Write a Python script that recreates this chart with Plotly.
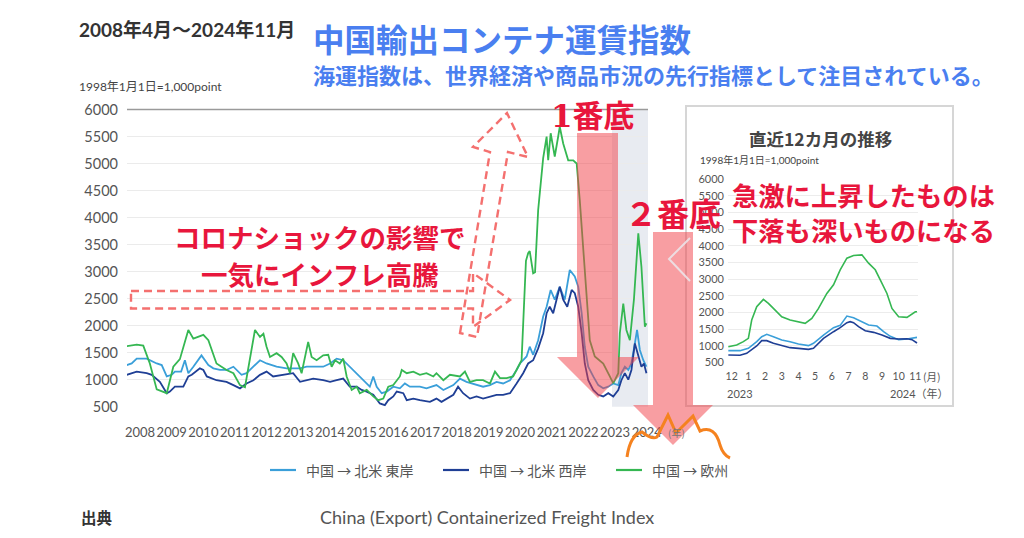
import plotly.graph_objects as go

# The page body has an 8px margin, so the figure is 1008x522 and every
# layout position below is given in reference-picture pixels, shifted by OFF.
OFF = 8
FW, FH = 1024 - 2 * OFF, 538 - 2 * OFF


def px(x):
    return (x - OFF) / FW


def py(y):
    return 1 - (y - OFF) / FH


# ---------------- main chart data (decimal year, index points) ----------------
east_t = [2008.24, 2008.40, 2008.56, 2008.88, 2009.20, 2009.36, 2009.52, 2009.68, 2009.78, 2009.98,
          2010.10, 2010.21, 2010.37, 2010.63, 2010.85, 2011.01, 2011.22, 2011.43, 2011.65, 2011.91,
          2012.07, 2012.29, 2012.50, 2012.71, 2013.03, 2013.35, 2013.56, 2013.78, 2013.99, 2014.20,
          2014.52, 2014.74, 2014.95, 2015.16, 2015.37, 2015.59, 2015.80, 2016.01, 2016.12, 2016.23,
          2016.39, 2016.55, 2016.76, 2016.97, 2017.13, 2017.29, 2017.61, 2017.82, 2018.14, 2018.36,
          2018.68, 2018.89, 2019.10, 2019.42, 2019.63, 2019.85, 2020.06, 2020.27, 2020.49, 2020.70,
          2020.81, 2021.02, 2021.12, 2021.23, 2021.39, 2021.55, 2021.66, 2021.79, 2021.92, 2022.08,
          2022.24, 2022.40, 2022.56, 2022.67, 2022.78, 2022.88, 2022.99, 2023.15, 2023.31, 2023.47,
          2023.63, 2023.79, 2023.95, 2024.05, 2024.16, 2024.27, 2024.37, 2024.48, 2024.55, 2024.64,
          2024.75, 2024.85]
east_v = [1270, 1300, 1390, 1390, 1300, 1270, 1060, 1090, 1150, 1150,
          1360, 1120, 1240, 1450, 1270, 1210, 1180, 1180, 1240, 1090,
          1120, 1240, 1360, 1300, 1240, 1210, 1210, 1210, 1240, 1240,
          1240, 1300, 1390, 1360, 1240, 1120, 990, 870, 1060, 870,
          750, 780, 870, 840, 930, 870, 870, 840, 900, 810,
          900, 1020, 960, 900, 870, 900, 960, 930, 990, 1180,
          1300, 1430, 1610, 1460, 1730, 2170, 2350, 2660, 2480, 2720,
          2480, 3030, 2910, 2720, 2230, 1610, 1240, 1060, 900, 840,
          870, 930, 900, 1120, 1240, 1180, 1300, 1670, 1920, 1550,
          1360, 1240]

west_t = [2008.24, 2008.56, 2008.88, 2009.04, 2009.30, 2009.52, 2009.62, 2009.78, 2010.05, 2010.21,
          2010.32, 2010.58, 2010.69, 2010.80, 2011.11, 2011.43, 2011.65, 2011.86, 2012.07, 2012.29,
          2012.50, 2012.71, 2012.92, 2013.24, 2013.56, 2013.78, 2013.99, 2014.20, 2014.52, 2014.74,
          2014.95, 2015.16, 2015.37, 2015.59, 2015.75, 2015.91, 2016.12, 2016.33, 2016.49, 2016.60,
          2016.76, 2016.87, 2017.08, 2017.19, 2017.40, 2017.61, 2017.93, 2018.14, 2018.30, 2018.46,
          2018.68, 2018.83, 2018.99, 2019.21, 2019.42, 2019.63, 2019.85, 2020.06, 2020.27, 2020.49,
          2020.70, 2020.91, 2021.07, 2021.23, 2021.39, 2021.55, 2021.66, 2021.76, 2021.87, 2022.08,
          2022.19, 2022.32, 2022.46, 2022.56, 2022.67, 2022.78, 2022.88, 2022.99, 2023.15, 2023.31,
          2023.47, 2023.63, 2023.79, 2023.95, 2024.05, 2024.16, 2024.27, 2024.37, 2024.48, 2024.59,
          2024.69, 2024.77, 2024.85]
west_v = [1090, 1150, 1120, 1090, 960, 750, 780, 870, 870, 1060,
          1090, 1210, 1180, 1060, 990, 960, 900, 840, 930, 990,
          1090, 1150, 1060, 1090, 1120, 960, 990, 1020, 990, 960,
          990, 1020, 870, 870, 810, 780, 720, 560, 530, 620,
          690, 780, 750, 620, 650, 620, 590, 650, 590, 650,
          720, 870, 750, 650, 690, 650, 690, 720, 720, 750,
          930, 1120, 1300, 1360, 1580, 1860, 2230, 2350, 2230, 2720,
          2480, 2350, 2660, 2600, 2350, 1860, 1300, 990, 810, 720,
          690, 750, 690, 810, 990, 1120, 1000, 1180, 1670, 1430,
          1240, 1300, 1120]

eu_t = [2008.24, 2008.56, 2008.77, 2008.98, 2009.20, 2009.36, 2009.52, 2009.73, 2009.94, 2010.21,
        2010.37, 2010.69, 2010.85, 2011.11, 2011.43, 2011.65, 2011.86, 2012.02, 2012.18, 2012.34,
        2012.50, 2012.61, 2012.71, 2012.82, 2013.03, 2013.19, 2013.35, 2013.46, 2013.56, 2013.72,
        2013.83, 2014.04, 2014.15, 2014.31, 2014.52, 2014.68, 2014.79, 2014.90, 2015.05, 2015.16,
        2015.27, 2015.43, 2015.59, 2015.69, 2015.91, 2016.12, 2016.28, 2016.44, 2016.60, 2016.76,
        2016.97, 2017.03, 2017.19, 2017.40, 2017.61, 2017.82, 2018.04, 2018.14, 2018.36, 2018.57,
        2018.89, 2019.05, 2019.21, 2019.42, 2019.63, 2019.85, 2020.01, 2020.17, 2020.38, 2020.59,
        2020.86, 2021.00, 2021.07, 2021.12, 2021.23, 2021.29, 2021.39, 2021.55, 2021.66, 2021.71,
        2021.79, 2021.92, 2022.03, 2022.08, 2022.19, 2022.35, 2022.51, 2022.62, 2022.72, 2022.83,
        2022.94, 2023.04, 2023.20, 2023.47, 2023.68, 2023.79, 2023.95, 2024.00, 2024.11, 2024.21,
        2024.32, 2024.45, 2024.59, 2024.69, 2024.80, 2024.85]
eu_v = [1620, 1650, 1630, 1300, 820, 790, 750, 1240, 1380, 1920,
        1760, 1830, 1730, 1300, 1180, 1120, 900, 860, 1360, 1920,
        1790, 1850, 1610, 1420, 1490, 1420, 1300, 1120, 1490, 1300,
        1120, 1700, 1420, 1360, 1450, 1460, 1240, 1360, 1300, 1390,
        1060, 810, 870, 750, 810, 690, 620, 650, 870, 900,
        1060, 1180, 1120, 1150, 1090, 1120, 1060, 1120, 990, 1090,
        1060, 1150, 960, 990, 990, 930, 1150, 1030, 1030, 1060,
        1360, 3200, 3340, 3380, 2970, 2990, 4140, 5100, 5500, 5060,
        5560, 5130, 5500, 5680, 5370, 5060, 5060, 5000, 4320, 3400,
        2480, 1730, 1430, 1300, 1060, 930, 1120, 1860, 2410, 1920,
        1730, 2480, 3710, 3090, 1980, 2040]

years = list(range(2008, 2025))
year_labels = [str(y) for y in years]
y_ticks = list(range(500, 6001, 500))

# ---------------- inset data (month index from Dec 2023) ----------------
month_labels = ["12", "1", "2", "3", "4", "5", "6", "7", "8", "9", "10", "11"]
in_eu_m = [-0.2, 0.3, 0.7, 1.0, 1.2, 1.5, 1.9, 2.2, 2.5, 2.8, 3.0, 3.5, 4.0, 4.4, 4.8, 5.2, 5.7,
           6.1, 6.5, 6.9, 7.3, 7.8, 8.2, 8.6, 8.9, 9.3, 9.6, 10.0, 10.5, 10.7, 11.0, 11.1]
in_eu_v = [970, 1020, 1120, 1220, 1770, 2170, 2390, 2270, 2120, 1970, 1870, 1770, 1720, 1670, 1820,
           2120, 2570, 2830, 3280, 3630, 3710, 3730, 3480, 3280, 2980, 2570, 2120, 1870, 1850, 1920,
           2020, 2020]
in_east_m = [-0.2, 0.5, 1.0, 1.5, 1.8, 2.1, 2.5, 3.0, 3.5, 4.0, 4.6, 4.9, 5.5, 6.1, 6.5, 6.9, 7.3,
             7.7, 8.2, 8.7, 9.1, 9.5, 10.0, 10.5, 10.9, 11.1]
in_east_v = [850, 850, 920, 1120, 1270, 1340, 1270, 1170, 1120, 1050, 1000, 1070, 1320, 1540, 1610,
             1890, 1840, 1740, 1620, 1590, 1420, 1280, 1180, 1200, 1230, 1250]
in_west_m = [-0.2, 0.5, 0.9, 1.5, 1.8, 2.1, 2.5, 3.0, 3.5, 4.0, 4.6, 4.9, 5.5, 6.1, 6.5, 6.9, 7.1,
             7.3, 7.6, 8.0, 8.5, 9.0, 9.5, 10.0, 10.5, 10.8, 11.1]
in_west_v = [720, 710, 770, 990, 1150, 1150, 1070, 1000, 940, 920, 890, 920, 1220, 1420, 1540, 1690,
             1720, 1690, 1570, 1450, 1400, 1320, 1220, 1200, 1210, 1180, 1080]

C_EAST = "#3a9fd9"
C_WEST = "#1f3f95"
C_EU = "#35b752"
NUM_FONT = "Lato, Noto Sans CJK JP, sans-serif"
JP_FONT = "Noto Sans CJK JP, sans-serif"

fig = go.Figure()
for t, v, c in [(east_t, east_v, C_EAST), (west_t, west_v, C_WEST), (eu_t, eu_v, C_EU)]:
    fig.add_trace(go.Scatter(x=t, y=v, mode="lines", line=dict(color=c, width=1.8),
                             showlegend=False, hoverinfo="skip", xaxis="x", yaxis="y"))
for m, v, c in [(in_east_m, in_east_v, C_EAST), (in_west_m, in_west_v, C_WEST), (in_eu_m, in_eu_v, C_EU)]:
    fig.add_trace(go.Scatter(x=m, y=v, mode="lines", line=dict(color=c, width=1.6),
                             showlegend=False, hoverinfo="skip", xaxis="x2", yaxis="y2"))

# main axes geometry (reference pixels)
X0, X1 = 127, 648
Y0, Y1 = 406.7, 109.5
T0, T1 = 2008.25, 2024.9
scale = (X1 - X0) / (T1 - T0)


def t_of(xpix):
    return T0 + (xpix - X0) / scale


tick_pos = [t_of(140 + 31.67 * (y - 2008)) for y in years]

fig.update_layout(
    width=FW, height=FH, autosize=False,
    margin=dict(l=0, r=0, t=0, b=0, pad=0, autoexpand=False),
    paper_bgcolor="white", plot_bgcolor="rgba(0,0,0,0)", showlegend=False,
    xaxis=dict(domain=[px(X0), px(X1)], range=[T0, T1], showgrid=False, zeroline=False,
               tickvals=tick_pos, ticktext=year_labels, ticks="", showline=False, tickangle=0,
               automargin=False,
               tickfont=dict(family=NUM_FONT, size=13, color="#555"), ticklabelstandoff=16),
    yaxis=dict(domain=[py(Y0), py(Y1)], range=[500, 6000], tickvals=y_ticks, automargin=False,
               gridcolor="#ebebeb", gridwidth=1.2, zeroline=False, showline=False, ticks="",
               tickfont=dict(family=NUM_FONT, size=14.5, color="#555"), ticklabelstandoff=8),
    xaxis2=dict(domain=[px(728), px(918)], range=[-0.22, 11.16], tickvals=list(range(12)),
                ticktext=month_labels, showgrid=False, zeroline=False, ticks="", anchor="y2",
                tickangle=0, automargin=False,
                tickfont=dict(family=NUM_FONT, size=10.5, color="#555"), ticklabelstandoff=6),
    yaxis2=dict(domain=[py(362.3), py(179.3)], range=[500, 6000], tickvals=y_ticks, anchor="x2",
                gridcolor="#ececec", gridwidth=1, zeroline=False, ticks="", automargin=False,
                tickfont=dict(family=NUM_FONT, size=11, color="#555"), ticklabelstandoff=3),
)


def path(points, close=True):
    s = "M " + " L ".join(f"{px(x):.5f},{py(y):.5f}" for x, y in points)
    return s + (" Z" if close else "")


shapes = []
# highlighted last-12-months band
shapes.append(dict(type="rect", xref="x", yref="paper", x0=t_of(612), x1=T1,
                   y0=py(Y0), y1=py(Y1), fillcolor="#e8ebf1", line=dict(width=0), layer="below"))
# top rule
shapes.append(dict(type="line", xref="paper", yref="paper", x0=px(X0), x1=px(X1),
                   y0=py(Y1), y1=py(Y1), line=dict(color="#9a9a9a", width=1.6)))
# inset frame
shapes.append(dict(type="rect", xref="paper", yref="paper", x0=px(686), x1=px(953),
                   y0=py(406), y1=py(106), fillcolor="white", line=dict(color="#d6d6d6", width=2),
                   layer="below"))
# dashed arrows
dash_line = dict(color="#f4706f", width=2.4, dash="8px,5px")
shapes.append(dict(type="path", xref="paper", yref="paper", layer="above", line=dash_line,
                   path=path([(131, 291), (473, 291), (473, 273), (510, 300), (473, 327),
                              (473, 308.5), (131, 308.5)])))
shapes.append(dict(type="path", xref="paper", yref="paper", layer="above", line=dash_line,
                   path=path([(460, 333), (490, 152), (473, 147), (507, 113), (528, 157),
                              (508, 152), (477, 337)])))
# red solid arrows
red_fill = "rgba(242,62,70,0.5)"
shapes.append(dict(type="path", xref="paper", yref="paper", layer="above", fillcolor=red_fill,
                   line=dict(width=0),
                   path=path([(577, 133), (618, 133), (618, 357), (639, 357), (598, 398),
                              (557, 357), (577, 357)])))
shapes.append(dict(type="path", xref="paper", yref="paper", layer="above", fillcolor=red_fill,
                   line=dict(width=0),
                   path=path([(653, 232), (693, 232), (693, 405), (713, 405), (673, 445),
                              (633, 405), (653, 405)])))
# faint chevron
shapes.append(dict(type="path", xref="paper", yref="paper", layer="above",
                   line=dict(color="rgba(235,232,236,0.85)", width=2),
                   path=path([(690, 238), (669, 259), (690, 281)], close=False)))
# orange burst
burst = (f"M {px(627):.5f},{py(457):.5f} Q {px(630):.5f},{py(435):.5f} {px(642):.5f},{py(432):.5f} "
         f"Q {px(652):.5f},{py(440):.5f} {px(657):.5f},{py(437):.5f} L {px(668):.5f},{py(415):.5f} "
         f"L {px(676):.5f},{py(433):.5f} L {px(693):.5f},{py(416):.5f} L {px(700):.5f},{py(431):.5f} "
         f"Q {px(715):.5f},{py(425):.5f} {px(720):.5f},{py(445):.5f} "
         f"Q {px(723):.5f},{py(455):.5f} {px(730):.5f},{py(458):.5f}")
shapes.append(dict(type="path", xref="paper", yref="paper", layer="above",
                   line=dict(color="#f5821f", width=3), path=burst))

# legend lines
legend_items = [("中国 → 北米 東岸", C_EAST, 270, 304), ("中国 → 北米 西岸", C_WEST, 443, 477),
                ("中国 → 欧州", C_EU, 616, 650)]
for _, c, lx, _tx in legend_items:
    shapes.append(dict(type="line", xref="paper", yref="paper", x0=px(lx), x1=px(lx + 26),
                       y0=py(470), y1=py(470), line=dict(color=c, width=2.2)))
fig.update_layout(shapes=shapes)

RED = "#e8163c"
BLUE = "#4a7ff0"
ann = []


def text(x, y, s, size, color, anchor="left", family=JP_FONT, weight="normal"):
    ann.append(dict(x=px(x), y=py(y), xref="paper", yref="paper", text=s, showarrow=False,
                    xanchor=anchor, yanchor="middle",
                    font=dict(family=family, size=size, color=color, weight=weight)))


text(77, 29, "2008年4月～2024年11月", 19, "#333", weight="bold", family=NUM_FONT)
text(311, 38, "中国輸出コンテナ運賃指数", 31.5, BLUE, weight="bold")
text(311, 74, "海運指数は、世界経済や商品市況の先行指標として注目されている。", 22, BLUE, weight="bold")
text(77, 86, "1998年1月1日=1,000point", 12, "#444", family=NUM_FONT)
text(320, 237, "コロナショックの影響で", 26.5, RED, anchor="center", weight="bold")
text(320, 273, "一気にインフレ高騰", 26.5, RED, anchor="center", weight="bold")
text(593, 116, "1番底", 31, RED, anchor="center", weight="bold",
     family="DejaVu Serif, Noto Sans CJK JP, serif")
text(673, 212, "２番底", 32, RED, anchor="center", weight="bold")
text(863, 194, "急激に上昇したものは", 26.3, RED, anchor="center", weight="bold")
text(863, 229, "下落も深いものになる", 26.3, RED, anchor="center", weight="bold")
text(676, 432, "(年)", 10, "#777", anchor="center")
# inset texts
text(820, 138, "直近12カ月の推移", 17.5, "#444", anchor="center", weight="bold")
text(698, 160, "1998年1月1日=1,000point", 10, "#444", family=NUM_FONT)
text(932, 376, "(月)", 10.5, "#555", anchor="center")
text(740, 393, "2023", 11, "#555", anchor="center", family=NUM_FONT)
text(919, 393, "2024（年）", 11, "#555", anchor="center", family=NUM_FONT)
# legend texts and source
for label, _c, _lx, tx in legend_items:
    text(tx, 470, label, 14, "#555")
text(79, 517, "出典", 15.5, "#333", weight="bold")
text(318, 517, "China (Export) Containerized Freight Index", 18, "#555", family=NUM_FONT)
fig.update_layout(annotations=ann)

fig.write_html("out.html")
